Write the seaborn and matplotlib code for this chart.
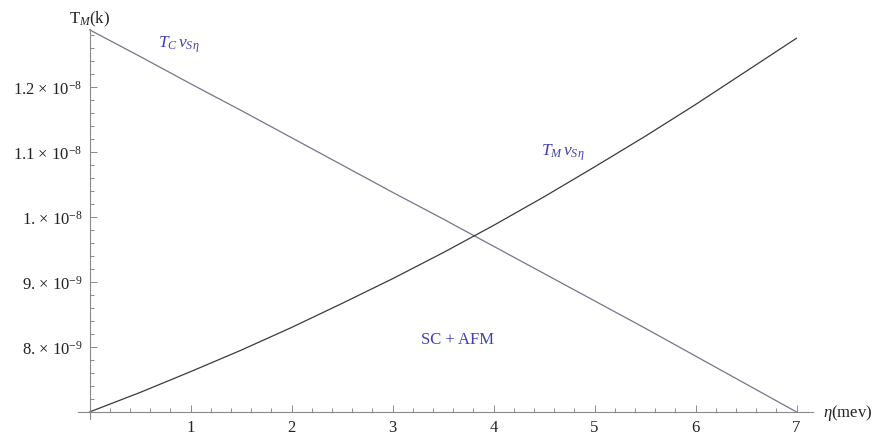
import matplotlib
matplotlib.use("Agg")
import matplotlib.pyplot as plt
import numpy as np
import pandas as pd
import seaborn as sns
from matplotlib.ticker import FixedLocator, FixedFormatter

# values, temperatures in units of 1e-9 K
ETA = [0.0, 0.5, 1.0, 1.5, 2.0, 2.5, 3.0, 3.5, 4.0, 4.5, 5.0, 5.5, 6.0, 6.5, 7.0]
TC_VALUES = [12.88, 12.47, 12.05, 11.64, 11.22, 10.80, 10.38, 9.97, 9.55,
             9.13, 8.71, 8.29, 7.86, 7.43, 7.00]
TM_VALUES = [7.00, 7.30, 7.62, 7.95, 8.30, 8.67, 9.05, 9.45, 9.87,
             10.31, 10.77, 11.24, 11.73, 12.24, 12.75]

X_TICKS = [1, 2, 3, 4, 5, 6, 7]
Y_TICKS = [8, 9, 10, 11, 12]
Y_TICK_LABELS = ["8. × 10$^{-9}$", "9. × 10$^{-9}$", "1. × 10$^{-8}$",
                 "1.1 × 10$^{-8}$", "1.2 × 10$^{-8}$"]

LABEL_BLUE = "#3f3fb8"

sns.set_theme(style="white")
plt.rcParams["font.family"] = ["Liberation Serif", "DejaVu Serif"]
plt.rcParams["mathtext.fontset"] = "custom"
plt.rcParams["mathtext.rm"] = "Liberation Serif"
plt.rcParams["mathtext.it"] = "Liberation Serif:italic"

df = pd.DataFrame({
    "eta": ETA * 2,
    "T": TC_VALUES + TM_VALUES,
    "curve": ["TC"] * len(ETA) + ["TM"] * len(ETA),
})

fig = plt.figure(figsize=(8.8, 4.35), dpi=100)
ax = fig.add_axes([78 / 880, 1 - 420 / 435, (813 - 78) / 880, (420 - 30) / 435])

sns.lineplot(data=df, x="eta", y="T", hue="curve",
             palette={"TC": "#75758c", "TM": "#3a3a3a"},
             linewidth=0.9, legend=False, ax=ax)
for line in ax.lines:
    line.set_clip_on(False)

ax.set_xlim(-0.114, 7.163)
ax.set_ylim(6.892, 12.892)

for side in ["top", "right"]:
    ax.spines[side].set_visible(False)
ax.spines["left"].set_position(("data", 0))
ax.spines["bottom"].set_position(("data", 7.0))
for side in ["left", "bottom"]:
    ax.spines[side].set_color("#8a8a8a")
    ax.spines[side].set_linewidth(0.8)

ax.xaxis.set_major_locator(FixedLocator(X_TICKS))
ax.xaxis.set_major_formatter(FixedFormatter([str(t) for t in X_TICKS]))
ax.xaxis.set_minor_locator(FixedLocator([i * 0.2 for i in range(36) if i % 5]))
ax.yaxis.set_major_locator(FixedLocator(Y_TICKS))
ax.yaxis.set_major_formatter(FixedFormatter(Y_TICK_LABELS))
ax.yaxis.set_minor_locator(FixedLocator([7 + i * 0.2 for i in range(1, 30) if i % 5]))

ax.tick_params(which="both", direction="in", color="#8a8a8a", width=0.7,
               bottom=True, left=True, labelsize=12, labelcolor="#222222")
ax.tick_params(which="major", length=5)
ax.tick_params(which="minor", length=3)
ax.tick_params(axis="x", pad=5)
ax.tick_params(axis="y", pad=5)

ax.set_xlabel("")
ax.set_ylabel("")

ax.text(7.26, 7.0, r"$\eta$(mev)", fontsize=12, color="#222222",
        ha="left", va="center", clip_on=False)
ax.text(0, 13.06, r"T$_{M}$(k)", fontsize=12, color="#222222",
        ha="center", va="center", clip_on=False)

ax.text(0.88, 12.66, r"$T_C\,v_{S\eta}$", fontsize=12.5, color=LABEL_BLUE,
        ha="center", va="center")
ax.text(4.69, 11.0, r"$T_M\,v_{S\eta}$", fontsize=12.5, color=LABEL_BLUE,
        ha="center", va="center")
ax.text(3.64, 8.12, "SC + AFM", fontsize=12, color=LABEL_BLUE,
        ha="center", va="center")

fig.savefig("out.png", dpi=100)
plt.close(fig)
